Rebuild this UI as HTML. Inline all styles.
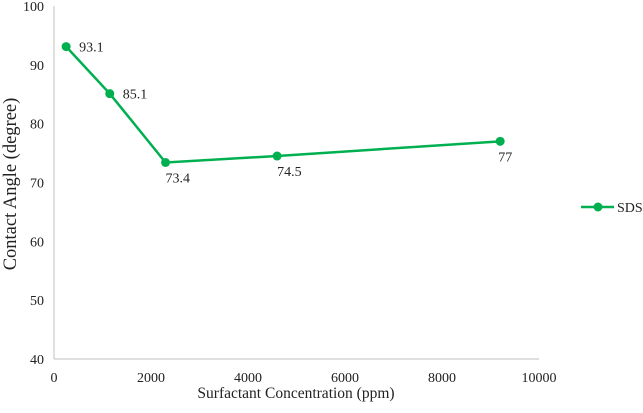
<!DOCTYPE html>
<html><head><meta charset="utf-8"><style>
body{margin:0;background:#fff}
svg text{font-family:"Liberation Serif",serif;fill:#222}
</style></head><body>
<svg id="c" width="643" height="408"></svg>
<script>
const xValues=[250,1150,2300,4600,9200];
const yValues=[93.1,85.1,73.4,74.5,77];
const valueLabels=["93.1","85.1","73.4","74.5","77"];
const xTicks=[0,2000,4000,6000,8000,10000];
const yTicks=[40,50,60,70,80,90,100];
const svg=document.getElementById('c');
const NS='http://www.w3.org/2000/svg';
const X0=54,X1=539,Y0=359,Y1=6;
const sx=v=>X0+(v-0)/(10000)*(X1-X0);
const sy=v=>Y0-(v-40)/60*(Y0-Y1);
function mk(t,a,txt){const e=document.createElementNS(NS,t);for(const k in a)e.setAttribute(k,a[k]);if(txt!=null)e.textContent=txt;svg.appendChild(e);return e;}
let e;
e=mk('line',{x1:X0,y1:Y1,x2:X0,y2:Y0,stroke:'#bfbfbf','stroke-width':1});


e=mk('line',{x1:X0,y1:Y0,x2:X1,y2:Y0,stroke:'#bfbfbf','stroke-width':1});


yTicks.forEach(v=>{e=mk('text',{x:X0-10,y:sy(v)+5,'text-anchor':'end','font-size':14},String(v));

});
xTicks.forEach(v=>{e=mk('text',{x:sx(v),y:Y0+23,'text-anchor':'middle','font-size':14},String(v));

});
e=mk('polyline',{points:xValues.map((x,i)=>sx(x)+','+sy(yValues[i])).join(' '),fill:'none',stroke:'#00b050','stroke-width':2.5});


xValues.forEach((x,i)=>{
 e=mk('circle',{cx:sx(x),cy:sy(yValues[i]),r:4.5,fill:'#00b050'});
 
 
 const below=i>=2;
 e=mk('text',{x:below?sx(x)+(i==4?-2:0):sx(x)+13,y:below?sy(yValues[i])+20:sy(yValues[i])+5,'font-size':14},valueLabels[i]);
 
 
});
e=mk('text',{x:296,y:398,'text-anchor':'middle','font-size':15.5},'Surfactant Concentration (ppm)');


e=mk('text',{x:0,y:0,'text-anchor':'middle','font-size':18.5,transform:'translate(16,184) rotate(-90)'},'Contact Angle (degree)');


e=mk('line',{x1:581,y1:207,x2:614,y2:207,stroke:'#00b050','stroke-width':2.5});


e=mk('circle',{cx:598,cy:207,r:4.5,fill:'#00b050'});


e=mk('text',{x:617,y:212,'font-size':14},'SDS');


</script>
</body></html>
